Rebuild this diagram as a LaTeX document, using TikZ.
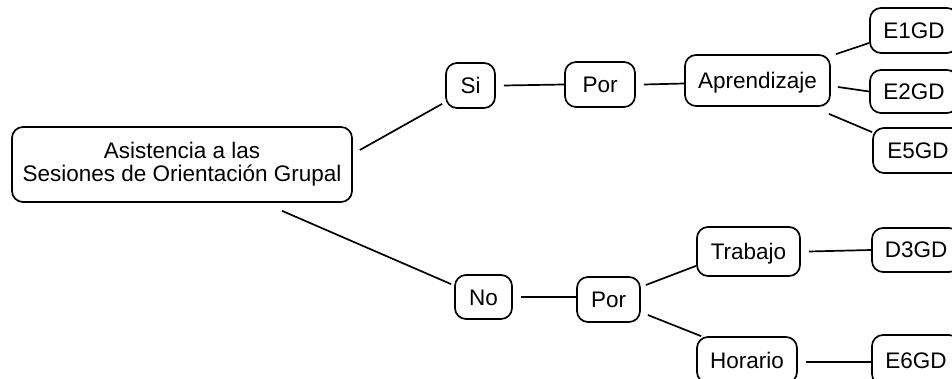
\documentclass[tikz,border=0pt]{standalone}
\usepackage{fontspec}
\setmainfont{Liberation Sans}
\begin{document}
\begin{tikzpicture}[x=1pt,y=-1pt,
  basebox/.style={draw=black, line width=1.7pt, rounded corners=11pt, inner sep=0pt,
    font=\fontsize{22.5}{23}\selectfont, align=center},
  box/.style={basebox, text height=16pt, text depth=0pt},
  link/.style={draw=black, line width=1.7pt}]
\useasboundingbox (0,0) rectangle (952,379);
% nodes
\node[basebox, minimum width=340pt, minimum height=75pt] (main) at (182,164.5)
  {Asistencia a las\\Sesiones de Orientación Grupal};
\node[box, minimum width=49pt, minimum height=45pt] (si) at (470.5,85.5) {Si};
\node[box, minimum width=70pt, minimum height=45pt] (por1) at (600,84.5) {Por};
\node[box, minimum width=145pt, minimum height=51pt] (apr) at (757.5,80.5) {Aprendizaje};
\node[box, minimum width=88pt, minimum height=45pt] (e1) at (914,30.5) {E1GD};
\node[box, minimum width=88pt, minimum height=43pt] (e2) at (914,91.5) {E2GD};
\node[box, minimum width=90pt, minimum height=45pt] (e5) at (918,150.5) {E5GD};
\node[box, minimum width=57pt, minimum height=44pt] (no) at (483.5,297) {No};
\node[box, minimum width=63pt, minimum height=45pt] (por2) at (608.5,299.5) {Por};
\node[box, minimum width=103pt, minimum height=49pt] (trab) at (748.5,251.5) {Trabajo};
\node[box, minimum width=88pt, minimum height=44pt] (d3) at (916,250) {D3GD};
\node[box, minimum width=100pt, minimum height=46pt] (hor) at (747,360) {Horario};
\node[box, minimum width=88pt, minimum height=50pt] (e6) at (916,360) {E6GD};
% connectors
\draw[link] ([shift={(7,-14.5)}]main.east) -- ([shift={(-3,-5)}]si.south west);
\draw[link] ([shift={(100,8)}]main.south) -- ([shift={(-3,10)}]no.north west);
\draw[link] ([shift={(8,0)}]si.east) -- (por1.west);
\draw[link] ([shift={(8,0)}]por1.east) -- ([shift={(0,3)}]apr.west);
\draw[link] ([shift={(5,0)}]apr.north east) -- ([shift={(0,12.5)}]e1.west);
\draw[link] ([shift={(7,6.5)}]apr.east) -- (e2.west);
\draw[link] ([shift={(-2,7)}]apr.south east) -- ([shift={(0,5)}]e5.north west);
\draw[link] ([shift={(8,0)}]no.east) -- ([shift={(0,-2.5)}]por2.west);
\draw[link] ([shift={(5,-14.5)}]por2.east) -- ([shift={(0,-11)}]trab.south west);
\draw[link] ([shift={(7,15.5)}]por2.east) -- ([shift={(5,0)}]hor.north west);
\draw[link] ([shift={(8,0)}]trab.east) -- (d3.west);
\draw[link] ([shift={(8,2)}]hor.east) -- ([shift={(0,2)}]e6.west);
\end{tikzpicture}
\end{document}
